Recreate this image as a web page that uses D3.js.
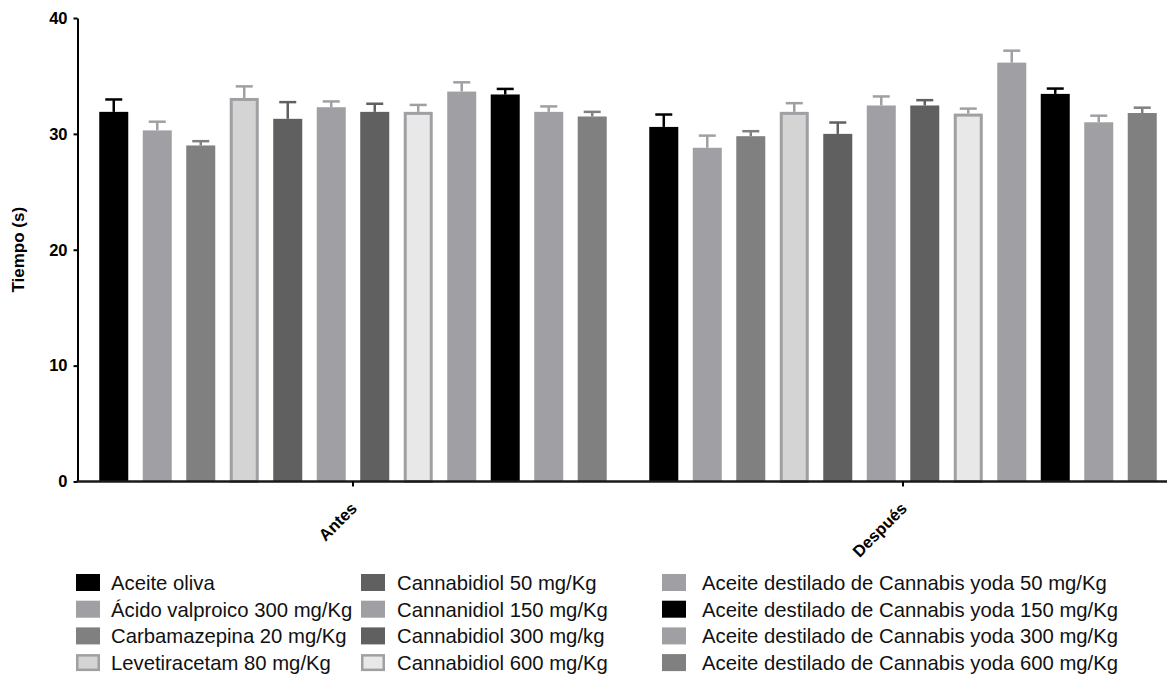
<!DOCTYPE html>
<html>
<head>
<meta charset="utf-8">
<script src="https://cdn.jsdelivr.net/npm/d3@7"></script>
<style>
  body { margin: 0; background: #fff; }
  svg { display: block; font-family: "Liberation Sans", Arial, sans-serif; }
</style>
</head>
<body>
<div id="bar_chart"></div>
<script>
/* Tiempo antes / después, barras agrupadas con error estándar */

const groups = ["Antes", "Después"];

const treatments = [
    "Aceite oliva",
    "Ácido valproico 300 mg/Kg",
    "Carbamazepina 20 mg/Kg",
    "Levetiracetam 80 mg/Kg",
    "Cannabidiol 50 mg/Kg",
    "Cannanidiol 150 mg/Kg",
    "Cannabidiol 300 mg/kg",
    "Cannabidiol 600 mg/Kg",
    "Aceite destilado de Cannabis yoda 50 mg/Kg",
    "Aceite destilado de Cannabis yoda 150 mg/Kg",
    "Aceite destilado de Cannabis yoda 300 mg/Kg",
    "Aceite destilado de Cannabis yoda 600 mg/Kg"
];

const antesMean    = [31.9, 30.3, 29.0, 33.1, 31.3, 32.3, 31.9, 31.9, 33.65, 33.4, 31.9, 31.5];
const antesSem     = [1.07, 0.75, 0.37, 1.0, 1.44, 0.5, 0.7, 0.6, 0.8, 0.48, 0.47, 0.4];
const despuesMean  = [30.6, 28.8, 29.8, 31.9, 30.0, 32.45, 32.45, 31.75, 36.15, 33.45, 31.0, 31.8];
const despuesSem   = [1.07, 1.05, 0.43, 0.75, 0.98, 0.78, 0.46, 0.43, 1.03, 0.46, 0.57, 0.46];

const yTicks = [0, 10, 20, 30, 40];

// fill / border colour per treatment
const fills   = ["#000000", "#a0a0a4", "#808080", "#d4d4d4", "#606060", "#a0a0a4",
                 "#606060", "#e8e8e8", "#a0a0a4", "#000000", "#a0a0a4", "#808080"];
const borders = [null, null, null, "#a0a0a4", null, null, null, "#a0a0a4", null, null, null, null];

const data = [];
groups.forEach((g, gi) => {
    const means = gi === 0 ? antesMean : despuesMean;
    const sems = gi === 0 ? antesSem : despuesSem;
    treatments.forEach((t, i) => {
        data.push({ group: g, key: t, i: i, value: means[i], sem: sems[i] });
    });
});

const width = 1167,
      height = 683,
      margin = ({ top: 18, right: 0, bottom: 201.5, left: 77.5 });

let svg = d3.select("#bar_chart")
    .append("svg")
    .attr("width", width)
    .attr("height", height)
    .attr("viewBox", [0, 0, width, height]);

let x0 = d3.scaleBand()
    .domain(groups)
    .range([92, 1164])
    .paddingInner(0.051)
    .paddingOuter(0);

let x1 = d3.scaleBand()
    .domain(treatments)
    .range([0, x0.bandwidth()])
    .paddingInner(0.333)
    .paddingOuter(0.1667);

let y = d3.scaleLinear()
    .domain([0, 40])
    .range([height - margin.bottom, margin.top]);

// bars
let bar = svg.selectAll(".bar")
    .data(data)
    .join("g")
    .attr("class", "bar")
    .attr("transform", d => `translate(${x0(d.group) + x1(d.key)},0)`);

// error bars (upper only)
const bw = x1.bandwidth();
bar.append("line")
    .attr("x1", bw / 2).attr("x2", bw / 2)
    .attr("y1", d => y(d.value)).attr("y2", d => y(d.value + d.sem))
    .attr("stroke", d => borders[d.i] || fills[d.i])
    .attr("stroke-width", 2.5);

bar.append("line")
    .attr("x1", bw / 2 - 8.5).attr("x2", bw / 2 + 8.5)
    .attr("y1", d => y(d.value + d.sem)).attr("y2", d => y(d.value + d.sem))
    .attr("stroke", d => borders[d.i] || fills[d.i])
    .attr("stroke-width", 2.5);

bar.append("rect")
    .attr("x", d => borders[d.i] ? 1.5 : 0)
    .attr("width", d => borders[d.i] ? bw - 3 : bw)
    .attr("y", d => y(d.value) + (borders[d.i] ? 1.5 : 0))
    .attr("height", d => y(0) - y(d.value) - (borders[d.i] ? 1.5 : 0))
    .attr("fill", d => fills[d.i])
    .attr("stroke", d => borders[d.i] || "none")
    .attr("stroke-width", 3);

// y axis
let yAxis = svg.append("g")
    .attr("transform", `translate(${margin.left},0)`)
    .call(d3.axisLeft(y).tickValues(yTicks).tickSize(4).tickPadding(6).tickSizeOuter(0));
yAxis.select(".domain").attr("stroke", "#000").attr("stroke-width", 2);
yAxis.selectAll(".tick line").attr("stroke", "#000").attr("stroke-width", 2);
yAxis.selectAll(".tick text")
    .attr("font-size", 16.5)
    .attr("font-weight", "bold")
    .attr("fill", "#000");

// x axis
let xAxis = svg.append("g")
    .attr("transform", `translate(0,${y(0)})`);
xAxis.append("line")
    .attr("x1", margin.left - 1).attr("x2", width)
    .attr("stroke", "#1a1a1a")
    .attr("stroke-width", 2.5);
let xTick = xAxis.selectAll(".xtick")
    .data(groups)
    .join("g")
    .attr("class", "xtick")
    .attr("transform", d => `translate(${x0(d) + x0.bandwidth() / 2},0)`);
xTick.append("line")
    .attr("y2", 5)
    .attr("stroke", "#000")
    .attr("stroke-width", 2);
xTick.append("text")
    .text(d => d)
    .attr("text-anchor", "end")
    .attr("font-size", 16.5)
    .attr("font-weight", "bold")
    .attr("transform", "translate(5,28) rotate(-45)");

// y title
svg.append("text")
    .text("Tiempo (s)")
    .attr("text-anchor", "middle")
    .attr("font-size", 17)
    .attr("font-weight", "bold")
    .attr("transform", `translate(24,${(y(0) + y(40)) / 2}) rotate(-90)`);

// legend
const legendCols = [76, 361, 662];
const textCols = [111, 397, 702];
let legend = svg.selectAll(".legend")
    .data(treatments)
    .join("g")
    .attr("class", "legend")
    .attr("transform", (d, i) => `translate(0,${590 + (i % 4) * 26.7})`);

legend.append("rect")
    .attr("x", (d, i) => legendCols[Math.floor(i / 4)] + (borders[i] ? 1.25 : 0))
    .attr("y", (d, i) => -16 + (borders[i] ? 1.25 : 0))
    .attr("width", (d, i) => borders[i] ? 21.5 : 24)
    .attr("height", (d, i) => borders[i] ? 14.5 : 17)
    .attr("fill", (d, i) => fills[i])
    .attr("stroke", (d, i) => borders[i] || "none")
    .attr("stroke-width", 2.5);

legend.append("text")
    .text(d => d)
    .attr("x", (d, i) => textCols[Math.floor(i / 4)])
    .attr("font-size", 20.3)
    .attr("fill", "#111");
</script>
</body>
</html>
